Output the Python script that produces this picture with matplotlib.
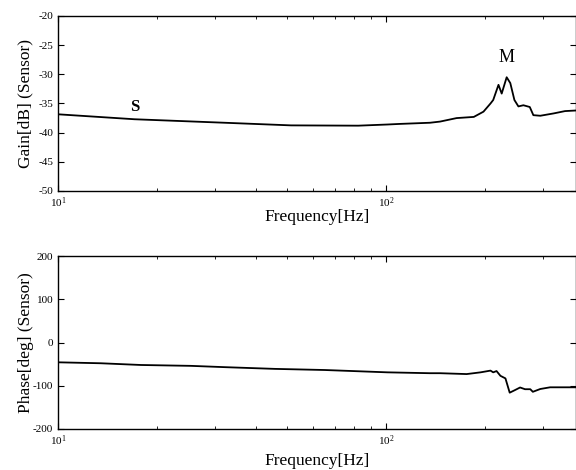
import matplotlib
matplotlib.use("Agg")
import matplotlib.pyplot as plt
from matplotlib.ticker import LogLocator, FixedLocator

plt.rcParams['font.family'] = ['Liberation Serif', 'DejaVu Serif']
plt.rcParams['axes.unicode_minus'] = False
plt.rcParams['mathtext.fontset'] = 'custom'
plt.rcParams['mathtext.rm'] = 'Liberation Serif'

# Gain curve (Hz, dB)
gain_freq = [10, 17.1, 32.2, 51.3, 82.2, 101, 110, 136, 146, 164, 185, 198, 208, 212,
             220, 225, 233, 239, 246, 253, 262, 274, 281, 295, 324, 351, 379]
gain_db = [-36.85, -37.7, -38.3, -38.75, -38.8, -38.6, -38.5, -38.3, -38.1, -37.5, -37.3,
           -36.4, -35.0, -34.4, -31.8, -33.3, -30.5, -31.5, -34.4, -35.5, -35.3, -35.6,
           -37.0, -37.1, -36.7, -36.3, -36.2]

# Phase curve (Hz, deg)
phase_freq = [10, 13.5, 17.9, 25.4, 32.2, 45.8, 65, 101, 136, 146, 176, 194, 208, 212,
              217, 223, 231, 238, 247, 256, 265, 275, 280, 295, 316, 379]
phase_deg = [-45.8, -48, -52, -54, -57, -61, -63.6, -69, -71, -71, -73, -69, -65, -69,
             -66, -77, -83, -116, -110, -104, -108, -108, -114, -107.5, -103.6, -103.6]

gain_ticks = [-20, -25, -30, -35, -40, -45, -50]
phase_ticks = [200, 100, 0, -100, -200]
xlim = (10, 379)

fig = plt.figure(figsize=(5.76, 4.70), dpi=100)
ax1 = fig.add_axes([58/576, 1-191/470, 1-58/576, (191-16)/470])
ax2 = fig.add_axes([58/576, 1-429/470, 1-58/576, (429-256)/470])

def style(ax):
    ax.set_xscale('log')
    ax.set_xlim(*xlim)
    ax.xaxis.set_major_locator(LogLocator(base=10))
    ax.xaxis.set_minor_locator(LogLocator(base=10, subs=range(2, 10)))
    ax.xaxis.set_minor_formatter(plt.NullFormatter())
    ax.tick_params(which='both', direction='in', top=True, right=True, labelsize=8)
    ax.tick_params(which='major', length=4)
    ax.tick_params(which='minor', length=2)
    for s in ax.spines.values():
        s.set_linewidth(1.0)

ax1.plot(gain_freq, gain_db, color='black', lw=1.3)
style(ax1)
ax1.set_ylim(-50, -20)
ax1.yaxis.set_major_locator(FixedLocator(gain_ticks))
ax1.set_ylabel('Gain[dB] (Sensor)', fontsize=12.5)
ax1.yaxis.set_label_coords(-0.047, 0.5)
ax1.set_xlabel('Frequency[Hz]', fontsize=12.5, labelpad=-1)
ax1.text(17.1, -35.6, 'S', fontsize=12, fontweight='bold', ha='center', va='center')
ax1.text(233, -27.2, 'M', fontsize=13, ha='center', va='center')

ax2.plot(phase_freq, phase_deg, color='black', lw=1.3)
style(ax2)
ax2.set_ylim(-200, 200)
ax2.yaxis.set_major_locator(FixedLocator(phase_ticks))
ax2.set_ylabel('Phase[deg] (Sensor)', fontsize=12.5)
ax2.yaxis.set_label_coords(-0.047, 0.5)
ax2.set_xlabel('Frequency[Hz]', fontsize=12.5, labelpad=3)

fig.savefig('out.png', dpi=100)
